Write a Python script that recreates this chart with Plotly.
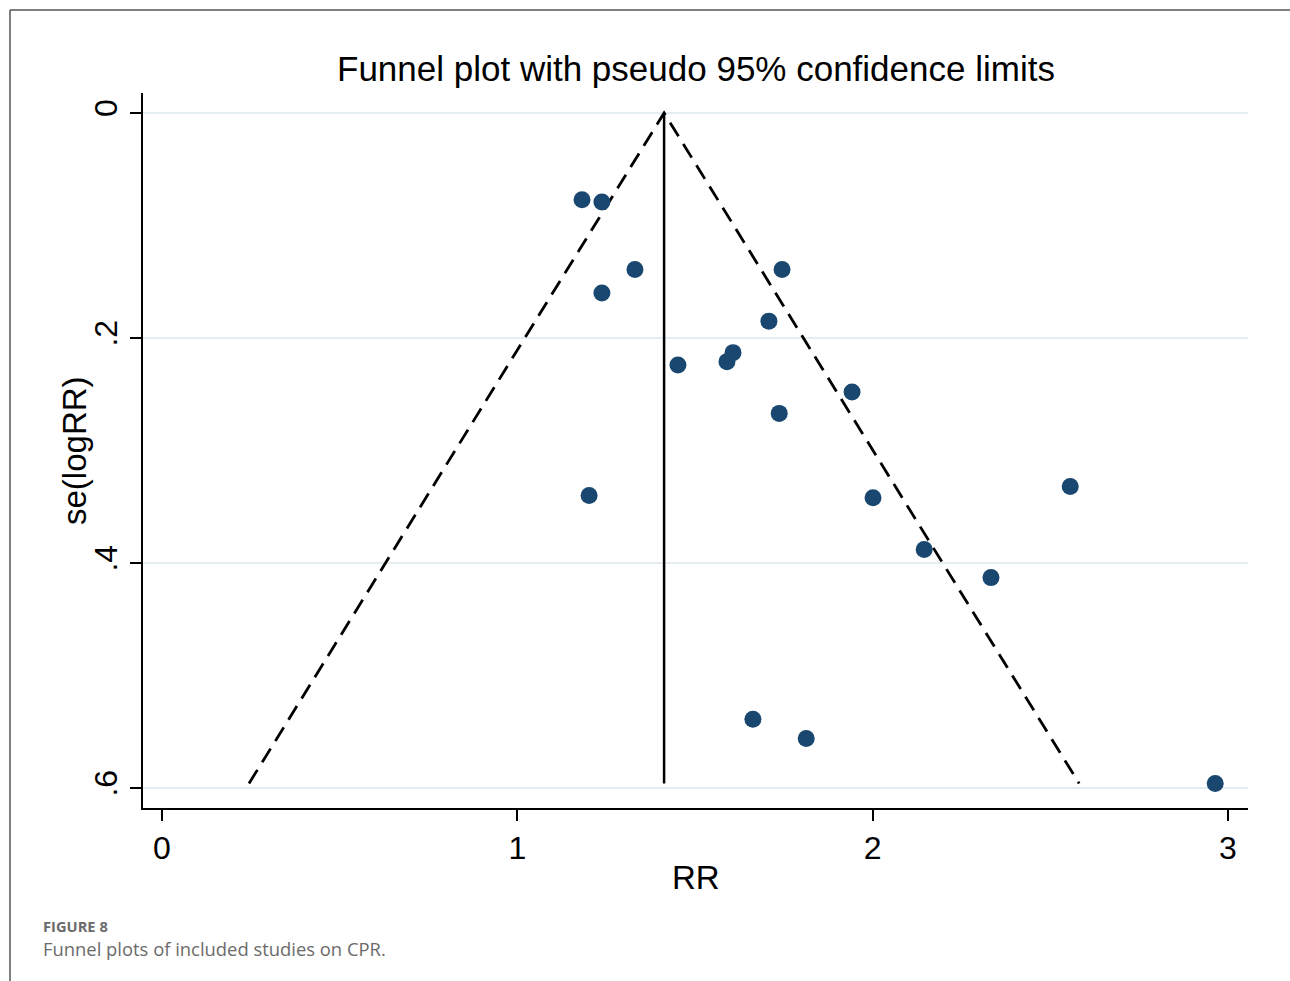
import plotly.graph_objects as go

# Study estimates (RR) and standard errors of log RR
rr = [1.182, 1.238, 1.331, 1.238, 1.745, 1.708, 1.607, 1.590, 1.452, 1.942,
      1.737, 1.202, 2.001, 2.556, 2.145, 2.333, 1.663, 1.813, 2.964]
se = [0.077, 0.079, 0.139, 0.160, 0.139, 0.185, 0.213, 0.221, 0.224, 0.248,
      0.267, 0.340, 0.342, 0.332, 0.388, 0.413, 0.539, 0.556, 0.596]

pooled = 1.413      # pooled RR (vertical line)
se_max = 0.596      # bottom of funnel
z = 1.96

x_ticks = [0, 1, 2, 3]
y_ticks = [0, 0.2, 0.4, 0.6]
y_tick_labels = ["0", ".2", ".4", ".6"]

W, H = 1290, 981
px_l, px_r, px_t, px_b = 143, 1248, 93, 808

font = "Liberation Sans, Arial, sans-serif"

fig = go.Figure()

# pseudo 95% confidence limits
lo = pooled - z * se_max
hi = pooled + z * se_max
fig.add_trace(go.Scatter(x=[lo, pooled, hi], y=[se_max, 0, se_max], mode="lines",
                         line=dict(color="black", width=2.8, dash="16px,9px"),
                         hoverinfo="skip", showlegend=False))
fig.add_trace(go.Scatter(x=[pooled, pooled], y=[0, se_max], mode="lines",
                         line=dict(color="black", width=2.5),
                         hoverinfo="skip", showlegend=False))
fig.add_trace(go.Scatter(x=rr, y=se, mode="markers",
                         marker=dict(color="#1a476f", size=17, line=dict(width=0)),
                         showlegend=False))

fig.update_layout(
    width=W, height=H,
    margin=dict(l=0, r=0, t=0, b=0),
    paper_bgcolor="white", plot_bgcolor="white",
    font=dict(family=font, color="black"),
    xaxis=dict(domain=[px_l / W, px_r / W],
               range=[-0.0535, 3.0563],
               tickvals=x_ticks, ticktext=[str(v) for v in x_ticks],
               showline=True, linecolor="black", linewidth=2,
               ticks="outside", ticklen=11, tickwidth=2, tickcolor="black",
               tickfont=dict(size=32, family=font),
               showgrid=False, zeroline=False),
    yaxis=dict(domain=[1 - px_b / H, 1 - px_t / H],
               range=[0.6178, -0.0178],
               tickvals=y_ticks, ticktext=y_tick_labels, tickangle=-90,
               showline=True, linecolor="black", linewidth=2,
               ticks="outside", ticklen=11, tickwidth=2, tickcolor="black",
               tickfont=dict(size=32, family=font),
               showgrid=True, gridcolor="#e4edf1", gridwidth=2,
               zeroline=False),
)

annotations = [
    dict(text="Funnel plot with pseudo 95% confidence limits", x=(px_l + px_r) / 2 / W,
         y=1 - 69 / H, xref="paper", yref="paper", showarrow=False,
         xanchor="center", yanchor="middle", font=dict(size=35, family=font)),
    dict(text="RR", x=(px_l + px_r) / 2 / W, y=1 - 877 / H, xref="paper", yref="paper",
         showarrow=False, xanchor="center", yanchor="middle", font=dict(size=33, family=font)),
    dict(text="se(logRR)", x=75 / W, y=1 - 451 / H, xref="paper", yref="paper",
         showarrow=False, textangle=-90, xanchor="center", yanchor="middle",
         font=dict(size=33, family=font)),
    dict(text="<b>FIGURE 8</b>", x=41 / W, y=1 - 926 / H, xref="paper", yref="paper",
         showarrow=False, xanchor="left", yanchor="middle",
         font=dict(size=14.7, family="Open Sans, sans-serif", color="#6b6b6b")),
    dict(text="Funnel plots of included studies on CPR.", x=41 / W, y=1 - 948 / H,
         xref="paper", yref="paper", showarrow=False, xanchor="left", yanchor="middle",
         font=dict(size=18.4, family="Open Sans, sans-serif", color="#6b6b6b")),
]
fig.update_layout(annotations=annotations)

# page border
fig.add_shape(type="line", xref="paper", yref="paper", x0=10 / W, y0=1 - 10 / H,
              x1=1.0, y1=1 - 10 / H, line=dict(color="#555555", width=1.5))
fig.add_shape(type="line", xref="paper", yref="paper", x0=10 / W, y0=1 - 10 / H,
              x1=10 / W, y1=0, line=dict(color="#555555", width=1.5))

fig.write_html("out.html")
